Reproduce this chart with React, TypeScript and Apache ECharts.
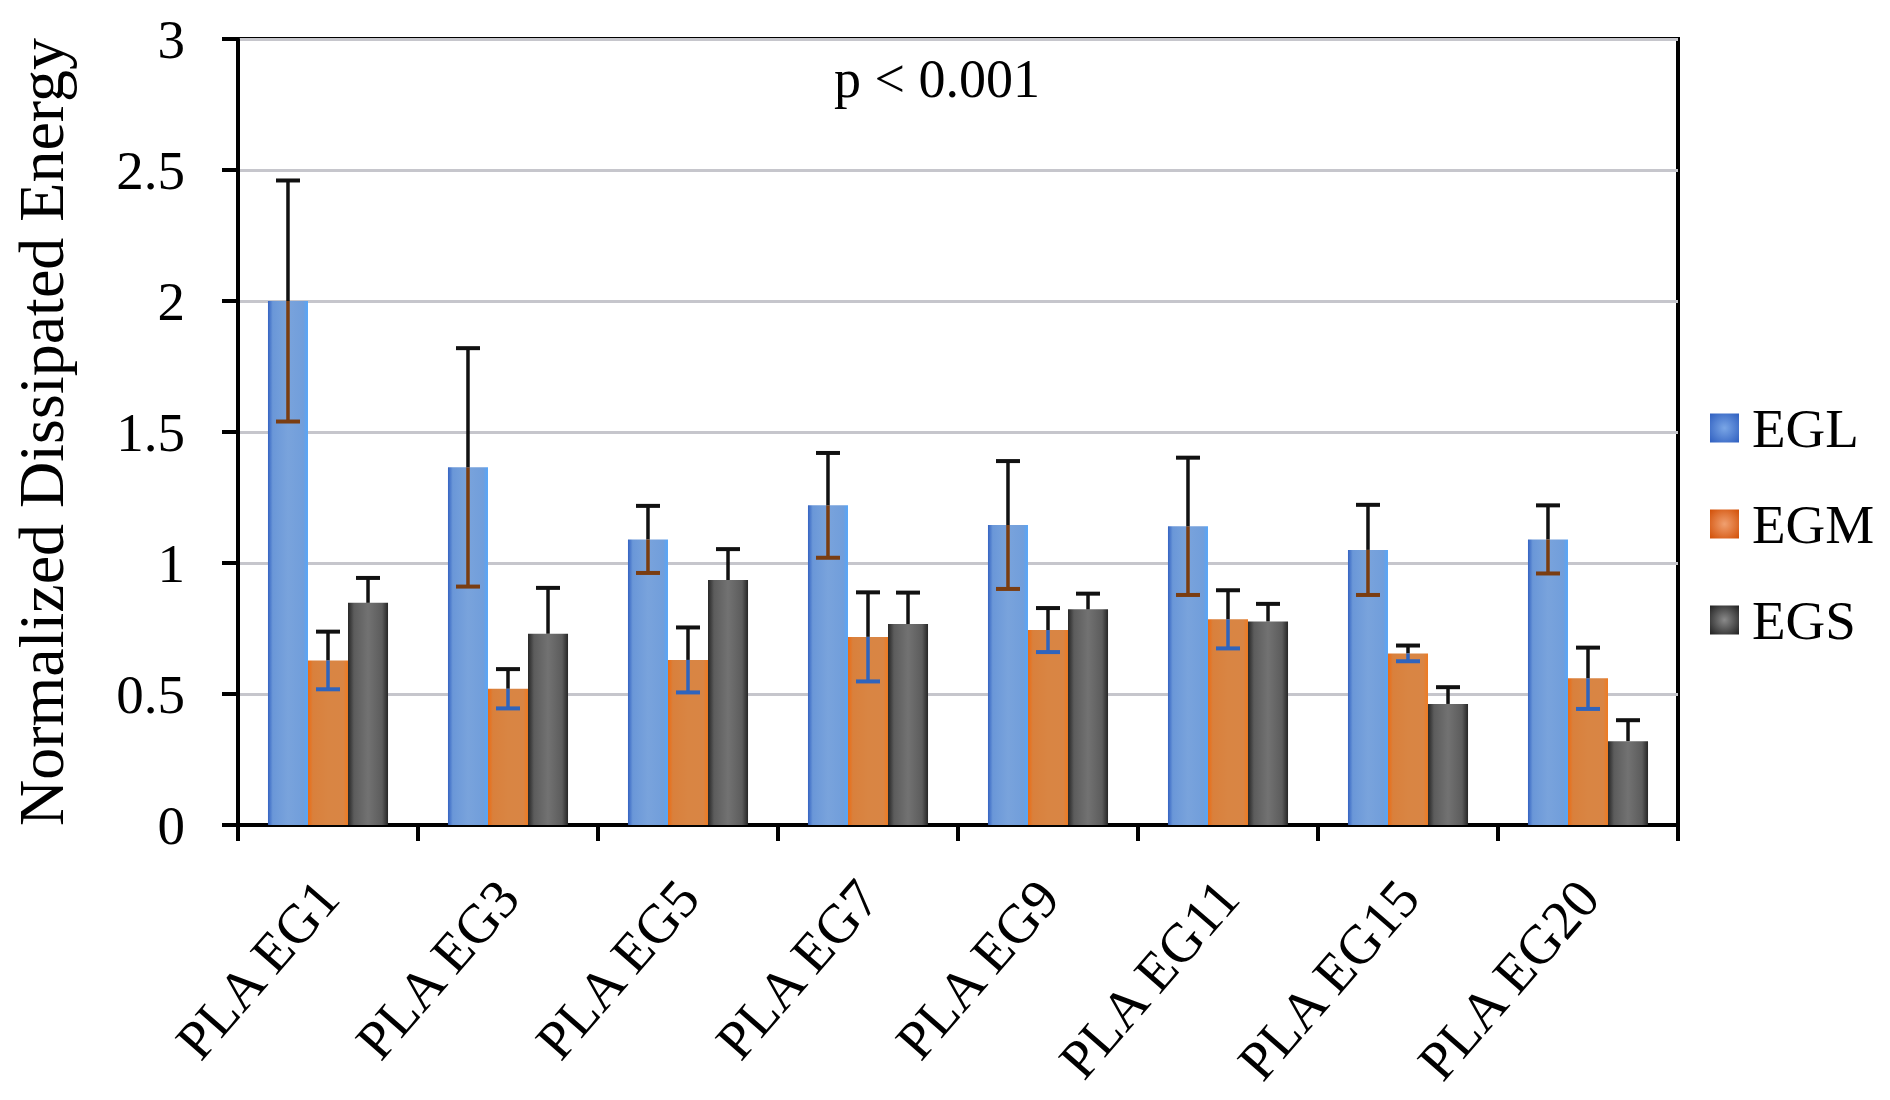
import React, { useEffect, useRef } from "react";
import * as echarts from "echarts";

const categories = ["PLA EG1", "PLA EG3", "PLA EG5", "PLA EG7", "PLA EG9", "PLA EG11", "PLA EG15", "PLA EG20"];
const seriesNames = ["EGL", "EGM", "EGS"];
const eglValues = [2.0, 1.365, 1.09, 1.22, 1.145, 1.14, 1.05, 1.09];
const eglErrors = [0.46, 0.455, 0.128, 0.2, 0.244, 0.262, 0.172, 0.13];
const egmValues = [0.628, 0.52, 0.63, 0.718, 0.744, 0.785, 0.655, 0.56];
const egmErrors = [0.11, 0.075, 0.124, 0.17, 0.084, 0.111, 0.03, 0.117];
const egsValues = [0.848, 0.73, 0.935, 0.767, 0.823, 0.777, 0.462, 0.32];
const egsErrors = [0.095, 0.175, 0.118, 0.12, 0.06, 0.067, 0.064, 0.08];
const yTicks = [0, 0.5, 1, 1.5, 2, 2.5, 3];

const FONT = "'Liberation Serif', 'Times New Roman', serif";

const lg = (stops: [number, string][]) =>
  new echarts.graphic.LinearGradient(0, 0, 1, 0, stops.map(([offset, color]) => ({ offset, color })));
const rg = (inner: string, outer: string) =>
  new echarts.graphic.RadialGradient(0.5, 0.5, 0.7, [
    { offset: 0, color: inner },
    { offset: 1, color: outer },
  ]);

const barFills = [
  lg([[0, "#3463c2"], [0.12, "#6a97d8"], [0.5, "#79a3dc"], [0.88, "#719edb"], [1, "#55a6fa"]]),
  lg([[0, "#ee6a10"], [0.12, "#d9803c"], [0.5, "#d98543"], [0.88, "#d98544"], [1, "#f07a20"]]),
  lg([[0, "#262626"], [0.15, "#5c5c5c"], [0.5, "#727272"], [0.85, "#5c5c5c"], [1, "#262626"]]),
];
const legendFills = [rg("#7aa6e6", "#2f5fc0"), rg("#f0a070", "#d24f06"), rg("#8a8a8a", "#202020")];
const lowerColors = ["#7a3d12", "#2f64bd", null];

function App() {
  const ref = useRef<HTMLDivElement>(null);
  useEffect(() => {
    if (!ref.current) return;
    const chart = echarts.init(ref.current, null, { renderer: "svg" });
    const values = [eglValues, egmValues, egsValues];
    const errors = [eglErrors, egmErrors, egsErrors];
    const gapFrac = 0.333;

    const barSeries = seriesNames.map((name, k) => ({
      name,
      type: "bar",
      data: values[k],
      barGap: "0%",
      barCategoryGap: "33.3%",
      itemStyle: { color: barFills[k] },
      z: 2,
    }));

    const errSeries = seriesNames.map((name, k) => ({
      name: name + "-err",
      type: "custom",
      z: 5,
      silent: true,
      data: values[k].map((v, i) => [i, v, errors[k][i]]),
      encode: { x: 0, y: 1 },
      renderItem: (params: any, api: any) => {
        const idx = api.value(0);
        const v = api.value(1);
        const e = api.value(2);
        const c = api.coord([idx, v]);
        const band = api.size([1, 0])[0];
        const bw = (band * (1 - gapFrac)) / 3;
        const x = c[0] + (k - 1) * bw;
        const yTop = api.coord([idx, v + e])[1];
        const yBot = api.coord([idx, v - e])[1];
        const yv = c[1];
        const cap = 12;
        const children: any[] = [
          { type: "line", shape: { x1: x, y1: yTop, x2: x, y2: yv }, style: { stroke: "#111", lineWidth: 3.5 } },
          { type: "line", shape: { x1: x - cap, y1: yTop, x2: x + cap, y2: yTop }, style: { stroke: "#111", lineWidth: 4 } },
        ];
        const lc = lowerColors[k];
        if (lc) {
          children.push(
            { type: "line", shape: { x1: x, y1: yv, x2: x, y2: yBot }, style: { stroke: lc, lineWidth: 3.5 } },
            { type: "line", shape: { x1: x - cap, y1: yBot, x2: x + cap, y2: yBot }, style: { stroke: lc, lineWidth: 4 } }
          );
        }
        return { type: "group", children };
      },
    }));

    chart.setOption({
      animation: false,
      backgroundColor: "#ffffff",
      textStyle: { fontFamily: FONT },
      grid: {
        left: 238,
        right: 212,
        top: 39,
        bottom: 275,
        show: true,
        borderColor: "#000",
        borderWidth: 4,
        backgroundColor: "transparent",
        outerBoundsMode: "none",
        containLabel: false,
      },
      title: {
        text: "p < 0.001",
        left: 829,
        top: 47,
        textStyle: { fontFamily: FONT, fontSize: 54, fontWeight: "normal", color: "#000" },
      },
      legend: {
        orient: "vertical",
        left: 1705,
        top: 395,
        itemWidth: 29,
        itemHeight: 29,
        itemGap: 40,
        icon: "rect",
        data: seriesNames.map((n, k) => ({ name: n, itemStyle: { color: legendFills[k] } })),
        textStyle: { fontFamily: FONT, fontSize: 55, color: "#000", lineHeight: 56, padding: [0, 0, 0, 8] },
      },
      xAxis: {
        type: "category",
        data: categories,
        axisLine: { show: true, lineStyle: { color: "#000", width: 4 } },
        axisTick: { show: true, length: 16, interval: 0, lineStyle: { color: "#000", width: 4 } },
        axisLabel: { interval: 0, rotate: 49, margin: 63, fontFamily: FONT, fontSize: 55, color: "#000" },
        splitLine: { show: false },
      },
      yAxis: {
        type: "value",
        min: yTicks[0],
        max: yTicks[yTicks.length - 1],
        interval: 0.5,
        name: "Normalized Dissipated Energy",
        nameLocation: "middle",
        nameRotate: 90,
        nameGap: 165,
        nameTextStyle: { fontFamily: FONT, fontSize: 64, color: "#000" },
        axisLine: { show: true, lineStyle: { color: "#000", width: 4 } },
        axisTick: { show: true, length: 16, lineStyle: { color: "#000", width: 4 } },
        axisLabel: { margin: 53, fontFamily: FONT, fontSize: 55, color: "#000" },
        splitLine: { show: true, lineStyle: { color: "#c6c6cc", width: 3 } },
      },
      series: [...barSeries, ...errSeries],
    });
    return () => chart.dispose();
  }, []);
  return (
    <div
      ref={ref}
      style={{ position: "absolute", left: 0, top: 0, width: 1890, height: 1100 }}
    />
  );
}

export default App;
